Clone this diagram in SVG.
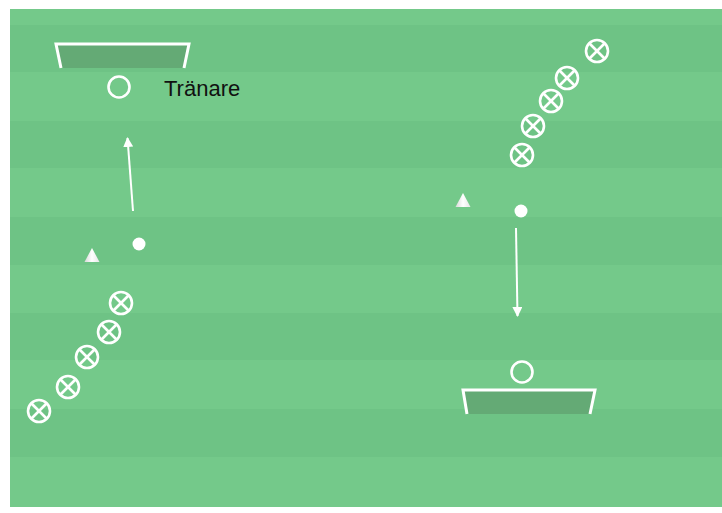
<svg xmlns="http://www.w3.org/2000/svg" width="722" height="513" viewBox="0 0 722 513">
<defs>
<style>
.light{fill:#74c98a}
.dark{fill:#6ec385}
.goalfill{fill:#64aa75}
.goalline{fill:none;stroke:#fff;stroke-width:3;stroke-linejoin:miter}
.ring{fill:none;stroke:#fff;stroke-width:2.6}
.cross{stroke:#fff;stroke-width:2.6}
.ball{fill:#fff}
.conn{stroke:#fff;stroke-width:2;fill:none}
.lbl{font-family:"Liberation Sans",Arial,sans-serif;font-size:22px;fill:#111}
</style>
<linearGradient id="coneg" x1="0" y1="0" x2="1" y2="0">
<stop offset="0" stop-color="#d8d8d8"/>
<stop offset="0.5" stop-color="#ffffff"/>
<stop offset="1" stop-color="#e6e6e6"/>
</linearGradient>
<marker id="ah" viewBox="0 0 10 10" refX="9" refY="5" markerWidth="10" markerHeight="10" markerUnits="userSpaceOnUse" orient="auto">
<path d="M0,0 L10,5 L0,10 z" fill="#fff"/>
</marker>
<g id="pl">
<circle r="11" class="ring"/>
<line x1="-7.5" y1="-7.5" x2="7.5" y2="7.5" class="cross"/>
<line x1="-7.5" y1="7.5" x2="7.5" y2="-7.5" class="cross"/>
</g>
<path id="cone" d="M0,-7 L7.5,7 L-7.5,7 Z" fill="url(#coneg)"/>
</defs>
<rect x="0" y="0" width="722" height="513" fill="#fff"/>
<g id="field">
<rect x="10" y="9" width="712" height="498" class="light"/>
<rect x="10" y="25" width="712" height="47" class="dark"/>
<rect x="10" y="121" width="712" height="47" class="dark"/>
<rect x="10" y="217" width="712" height="48" class="dark"/>
<rect x="10" y="313" width="712" height="47" class="dark"/>
<rect x="10" y="409" width="712" height="48" class="dark"/>
</g>
<g id="goal-top">
<path d="M56,44 L189,44 L184,68 L61,68 Z" class="goalfill"/>
<path d="M61,68 L56,44 L189,44 L184,68" class="goalline"/>
</g>
<g id="goal-bottom">
<path d="M463,390 L595,390 L590,414 L467,414 Z" class="goalfill"/>
<path d="M467,414 L463,390 L595,390 L590,414" class="goalline"/>
</g>
<g id="coach">
<circle cx="119" cy="87" r="10.5" class="ring"/>
<text x="164" y="96" class="lbl">Tränare</text>
</g>
<g id="keeper">
<circle cx="522" cy="372" r="10.5" class="ring"/>
</g>
<g id="players-left">
<use href="#pl" x="121" y="303"/>
<use href="#pl" x="109" y="332"/>
<use href="#pl" x="87" y="357"/>
<use href="#pl" x="68" y="387"/>
<use href="#pl" x="39" y="411"/>
</g>
<g id="players-right">
<use href="#pl" x="597" y="51"/>
<use href="#pl" x="567" y="78"/>
<use href="#pl" x="551" y="101"/>
<use href="#pl" x="533" y="126"/>
<use href="#pl" x="522" y="155"/>
</g>
<g id="cone-left"><use href="#cone" x="92" y="255"/></g>
<g id="cone-right"><use href="#cone" x="463" y="200"/></g>
<g id="ball-left"><circle cx="139" cy="244" r="6.5" class="ball"/></g>
<g id="ball-right"><circle cx="521" cy="211" r="6.5" class="ball"/></g>
<g id="connectors">
<line x1="133" y1="211" x2="127.5" y2="138" class="conn" marker-end="url(#ah)"/>
<line x1="516" y1="228" x2="517.5" y2="316" class="conn" marker-end="url(#ah)"/>
</g>
</svg>
